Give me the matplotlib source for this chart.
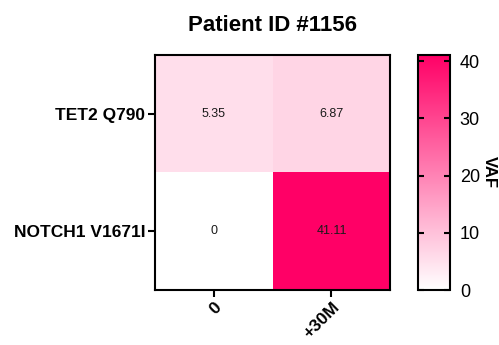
import numpy as np
import matplotlib
matplotlib.use("Agg")
import matplotlib.pyplot as plt
from matplotlib.colors import LinearSegmentedColormap

plt.rcParams['font.family'] = ['Liberation Sans', 'DejaVu Sans']

mutations = ["TET2 Q790", "NOTCH1 V1671I"]
timepoints = ["0", "+30M"]
vaf = np.array([[5.35, 6.87],
                [0.0, 41.11]])

cmap = LinearSegmentedColormap.from_list("vaf_pink", ["#FFFFFF", "#FF0066"])

fig = plt.figure(figsize=(4.99, 3.45), dpi=100)
ax = fig.add_axes([0.311, 0.159, 0.471, 0.682])
cax = fig.add_axes([0.838, 0.159, 0.064, 0.682])

im = ax.imshow(vaf, cmap=cmap, vmin=0, vmax=vaf.max(), aspect="auto")

for i in range(vaf.shape[0]):
    for j in range(vaf.shape[1]):
        v = vaf[i, j]
        txt = "0" if v == 0 else f"{v:.2f}"
        ax.text(j, i, txt, ha="center", va="center", fontsize=9, color="#1a1a1a")

ax.set_xticks(range(len(timepoints)))
ax.set_xticklabels(timepoints, rotation=45, ha="right", rotation_mode="anchor",
                   fontsize=12.5, fontweight="bold")
ax.set_yticks(range(len(mutations)))
ax.set_yticklabels(mutations, fontsize=12.5, fontweight="bold")
ax.tick_params(axis="both", length=5, width=1.5, pad=2)
for s in ax.spines.values():
    s.set_linewidth(1.5)

ax.set_title("Patient ID #1156", fontsize=16, fontweight="bold", pad=17)

cb = fig.colorbar(im, cax=cax)
cb.set_ticks([0, 10, 20, 30, 40])
cax.yaxis.set_ticks_position("both")
cax.tick_params(axis="y", labelsize=13, length=4, width=1.5, direction="in",
                labelleft=False, labelright=True, pad=7)
cb.outline.set_linewidth(1.5)
cb.set_label("VAF", rotation=270, fontsize=12, fontweight="bold", labelpad=12)

fig.savefig("out.png", dpi=100)
